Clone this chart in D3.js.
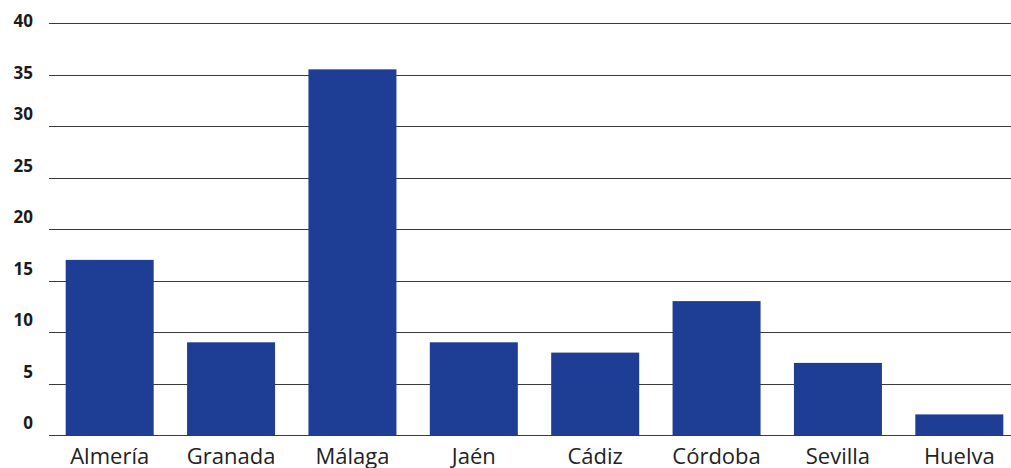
<!DOCTYPE html>
<html><head><meta charset="utf-8">
<script src="https://cdn.jsdelivr.net/npm/d3@7"></script>
<style>
html,body{margin:0;padding:0;background:#fff;overflow:hidden}
svg{display:block}
</style></head>
<body>
<svg id="c" width="1011" height="468"></svg>
<script>
const categories = ["Almería","Granada","Málaga","Jaén","Cádiz","Córdoba","Sevilla","Huelva"];
const values = [17, 9, 35.5, 9, 8, 13, 7, 2];
const yTicks = [0,5,10,15,20,25,30,35,40];

const svg = d3.select("#c");
const x = d3.scaleBand().domain(categories).range([49, 1020]).paddingInner(0.275).paddingOuter(0.1375);
const y = d3.scaleLinear().domain([0,40]).range([435, 23]);

// gridlines
svg.append("g").selectAll("line").data(yTicks).join("line")
  .attr("x1", 49).attr("x2", 1011)
  .attr("y1", d => Math.round(y(d)) + 0.5).attr("y2", d => Math.round(y(d)) + 0.5)
  .attr("stroke", "#3a3a3a").attr("stroke-width", 1.2);

// bars
svg.append("g").selectAll("rect").data(values).join("rect")
  .attr("x", (d,i) => x(categories[i]))
  .attr("width", x.bandwidth())
  .attr("y", d => y(d))
  .attr("height", d => y(0) - y(d))
  .attr("fill", "#1e3d94");

// y labels
svg.append("g").selectAll("text").data(yTicks).join("text")
  .attr("x", 33)
  .attr("y", d => y(d) + (d >= 35 ? -1.5 : -11.5))
  .attr("dy", "0.35em")
  .attr("text-anchor", "end")
  .attr("font-family", "'Open Sans', sans-serif")
  .attr("font-weight", 700)
  .attr("font-size", 17)
  .attr("fill", "#1a1a1a")
  .text(d => d);

// x labels
svg.append("g").selectAll("text").data(categories).join("text")
  .attr("x", d => x(d) + x.bandwidth()/2)
  .attr("y", 464)
  .attr("text-anchor", "middle")
  .attr("font-family", "'Open Sans', sans-serif")
  .attr("font-weight", 400)
  .attr("font-size", 22)
  .attr("fill", "#222")
  .text(d => d);
</script>
</body></html>
